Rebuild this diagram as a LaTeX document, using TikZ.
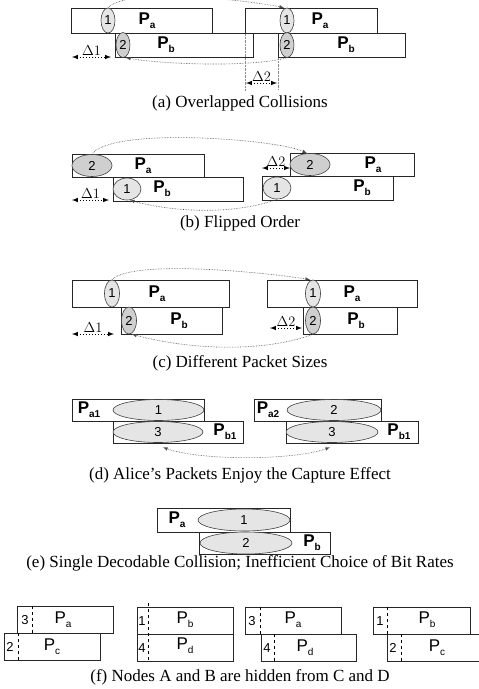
\documentclass[tikz,border=0pt]{standalone}
\usepackage{fontspec}
\setmainfont{Liberation Serif}
\newfontfamily\labfont{Liberation Sans}
\usetikzlibrary{arrows,shapes.geometric}

\newcommand{\pname}[1]{P\raisebox{-0.45ex}{\fontsize{10}{10}\selectfont #1}}

\begin{document}
\begin{tikzpicture}[x=1pt,y=-1pt,
    pkt/.style n args={2}{draw=black!85,line width=0.9pt,anchor=north west,
        minimum width=#1pt,minimum height=#2pt,inner sep=0pt},
    ell/.style n args={2}{ellipse,draw=black!75,line width=0.6pt,fill=gray!20,
        minimum width=#1pt,minimum height=#2pt,inner sep=0pt,
        font=\labfont\fontsize{13}{13}\selectfont},
    hatch/.style={fill=gray!38},
    plab/.style={font=\labfont\bfseries\fontsize{17}{17}\selectfont,inner sep=0pt},
    flab/.style={font=\labfont\fontsize{17}{17}\selectfont,inner sep=0pt},
    nlab/.style={font=\labfont\fontsize{13}{13}\selectfont,inner sep=0pt},
    flow/.style={densely dotted,black!70,line width=0.6pt,-latex},
    gap/.style={dotted,line width=1pt,latex-latex},
    dlab/.style={font=\fontsize{15}{15}\selectfont,inner sep=1pt,above},
    guide/.style={densely dotted,black!45,line width=0.4pt},
    subcap/.style={font=\fontsize{17}{17}\selectfont}]

\useasboundingbox (0,0) rectangle (479,689);

% (a) overlapped collisions
\node[pkt={141}{25}] (aPa1) at (71,8) {};
\node[pkt={138}{24}] (aPb1) at (115,33) {};
\node[pkt={132}{25}] (aPa2) at (245,8) {};
\node[pkt={127}{24}] (aPb2) at (278,33) {};
\node[ell={14}{25}] (a1L) at (108,20.5) {1};
\node[ell={14}{25},hatch] (a2L) at (123,45) {2};
\node[ell={14}{25}] (a1R) at (287,20.5) {1};
\node[ell={14}{25},hatch] (a2R) at (287,45) {2};
\node[plab] (aLa1) at (147,21) {\pname{a}};
\node[plab] (aLb1) at (166,45) {\pname{b}};
\node[plab] (aLa2) at (320,21) {\pname{a}};
\node[plab] (aLb2) at (346,45) {\pname{b}};

\draw[flow] (a1L.north) to[out=45,in=168,looseness=0.45] ([xshift=-3pt]a1R.north);
\draw[flow] (a2R.south) to[out=195,in=-10,looseness=0.6] ([xshift=3pt]a2L.south);

\coordinate (a1s) at (72,57);
\coordinate (a1e) at (111,57);
\draw[gap] (a1s) -- node[dlab] {$\Delta1$} (a1e);
\coordinate (g1) at (245,90);
\coordinate (g2) at (278,90);
\draw[guide] (aPa2.south west) -- (g1);
\draw[guide] (aPb2.south west) -- (g2);
\coordinate (a2s) at (246,83);
\coordinate (a2e) at (277,83);
\draw[gap] (a2s) -- node[dlab] {$\Delta2$} (a2e);

\node[subcap] (capa) at (240,103) {(a) Overlapped Collisions};

% (b) flipped order
\node[pkt={132}{23}] (bPa1) at (72,154) {};
\node[pkt={130}{24}] (bPb1) at (113,177) {};
\node[pkt={124}{23}] (bPa2) at (290,153) {};
\node[pkt={131}{24}] (bPb2) at (262,176) {};
\node[ell={40}{22},hatch] (b2L) at (92,165.5) {2};
\node[ell={28}{22}] (b1L) at (127,189) {1};
\node[ell={40}{22},hatch] (b2R) at (310,164.5) {2};
\node[ell={28}{22}] (b1R) at (277,188) {1};
\node[plab] (bLa1) at (143,166) {\pname{a}};
\node[plab] (bLb1) at (162,189) {\pname{b}};
\node[plab] (bLa2) at (373,165) {\pname{a}};
\node[plab] (bLb2) at (362,188) {\pname{b}};

\draw[flow] (b2L.north) to[out=55,in=155,looseness=0.4] ([xshift=-3pt]b2R.north);
\draw[flow] (b1R.south) to[out=200,in=-15,looseness=0.8] ([xshift=3pt]b1L.south);

\coordinate (b1s) at (72,200);
\coordinate (b1e) at (109,200);
\draw[gap] (b1s) -- node[dlab] {$\Delta1$} (b1e);
\coordinate (b2s) at (262,168);
\coordinate (b2e) at (290,168);
\draw[gap] (b2s) -- node[dlab] {$\Delta2$} (b2e);

\node[subcap] (capb) at (240,223) {(b) Flipped Order};

% (c) different packet sizes
\node[pkt={157}{27}] (cPa1) at (72,280) {};
\node[pkt={101}{27}] (cPb1) at (121,307) {};
\node[pkt={150}{27}] (cPa2) at (267,280) {};
\node[pkt={94}{27}] (cPb2) at (303,307) {};
\node[ell={15}{27}] (c1L) at (112,293.5) {1};
\node[ell={15}{27},hatch] (c2L) at (129,320.5) {2};
\node[ell={15}{27}] (c1R) at (313,293.5) {1};
\node[ell={15}{27},hatch] (c2R) at (313,320.5) {2};
\node[plab] (cLa1) at (157,294) {\pname{a}};
\node[plab] (cLb1) at (179,321) {\pname{b}};
\node[plab] (cLa2) at (352,294) {\pname{a}};
\node[plab] (cLb2) at (356,321) {\pname{b}};

\draw[flow] (c1L.north) to[out=45,in=170,looseness=0.4] ([xshift=-3pt]c1R.north);
\draw[flow] (c2R.south) to[out=200,in=-15,looseness=0.8] ([xshift=3pt]c2L.south);

\coordinate (c1s) at (72,334);
\coordinate (c1e) at (114,334);
\draw[gap] (c1s) -- node[dlab] {$\Delta1$} (c1e);
\coordinate (c2s) at (270,328);
\coordinate (c2e) at (302,328);
\draw[gap] (c2s) -- node[dlab] {$\Delta2$} (c2e);

\node[subcap] (capc) at (240,363) {(c) Different Packet Sizes};

% (d) capture effect
\node[pkt={132}{22}] (dPa1) at (72,399) {};
\node[pkt={130}{22}] (dPb1) at (113,421) {};
\node[pkt={127}{22}] (dPa2) at (254,399) {};
\node[pkt={132}{22}] (dPb2) at (286,421) {};
\node[ell={91}{21}] (d1L) at (158.5,410) {1};
\node[ell={90}{21}] (d3L) at (158,432) {3};
\node[ell={94}{21}] (d2R) at (334,410) {2};
\node[ell={92}{21}] (d3R) at (332,432) {3};
\node[plab] (dLa1) at (89,410) {\pname{a1}};
\node[plab] (dLb1) at (225,432) {\pname{b1}};
\node[plab] (dLa2) at (268,410) {\pname{a2}};
\node[plab] (dLb2) at (399,432) {\pname{b1}};

\draw[flow,latex-latex] ([xshift=5pt,yshift=-4.5pt]d3L.south) to[out=-20,in=200,looseness=0.6] ([xshift=-2pt,yshift=-4.5pt]d3R.south);

\node[subcap] (capd) at (240,475) {(d) Alice's Packets Enjoy the Capture Effect};

% (e) single decodable collision
\node[pkt={133}{24}] (ePa) at (157,508) {};
\node[pkt={131}{22}] (ePb) at (199,532) {};
\node[ell={92}{22}] (e1) at (244,520) {1};
\node[ell={92}{22}] (e2) at (246,543) {2};
\node[plab] (eLa) at (177,520) {\pname{a}};
\node[plab] (eLb) at (312,543) {\pname{b}};

\node[subcap] (cape) at (240,563) {(e) Single Decodable Collision; Inefficient Choice of Bit Rates};

% (f) hidden terminals
\node[pkt={96}{27}] (fPa1) at (17,606) {};
\node[pkt={96}{27}] (fPc1) at (4,633) {};
\node[pkt={96}{27}] (fPb2) at (137,607) {};
\node[pkt={96}{27}] (fPd2) at (137,634) {};
\node[pkt={96}{27}] (fPa3) at (245,607) {};
\node[pkt={95}{27}] (fPd3) at (261,634) {};
\node[pkt={97}{27}] (fPb4) at (373,607) {};
\node[pkt={100}{27}] (fPc4) at (387,634) {};

\draw[dashed] (32,606) -- (32,633);
\draw[dashed] (18,633) -- (18,660);
\draw[dashed] (148,603) -- (148,661);
\draw[dashed] (260,607) -- (260,634);
\draw[dashed] (274,634) -- (274,661);
\draw[dashed] (387,607) -- (387,634);
\draw[dashed] (401,634) -- (401,661);

\node[nlab] (fn3a) at (25,620) {3};
\node[nlab] (fn2a) at (10,647) {2};
\node[nlab] (fn1b) at (142,621) {1};
\node[nlab] (fn4b) at (142,648) {4};
\node[nlab] (fn3c) at (252,621) {3};
\node[nlab] (fn4c) at (267,648) {4};
\node[nlab] (fn1d) at (380,621) {1};
\node[nlab] (fn2d) at (393,648) {2};
\node[flab] (fLa1) at (63,620) {\pname{a}};
\node[flab] (fLc1) at (52,647) {\pname{c}};
\node[flab] (fLb2) at (185,620) {\pname{b}};
\node[flab] (fLd2) at (185,646) {\pname{d}};
\node[flab] (fLa3) at (293,620) {\pname{a}};
\node[flab] (fLd3) at (305,648) {\pname{d}};
\node[flab] (fLb4) at (427,620) {\pname{b}};
\node[flab] (fLc4) at (437,648) {\pname{c}};

\node[subcap] (capf) at (240,677) {(f) Nodes A and B are hidden from C and D};

\end{tikzpicture}
\end{document}
